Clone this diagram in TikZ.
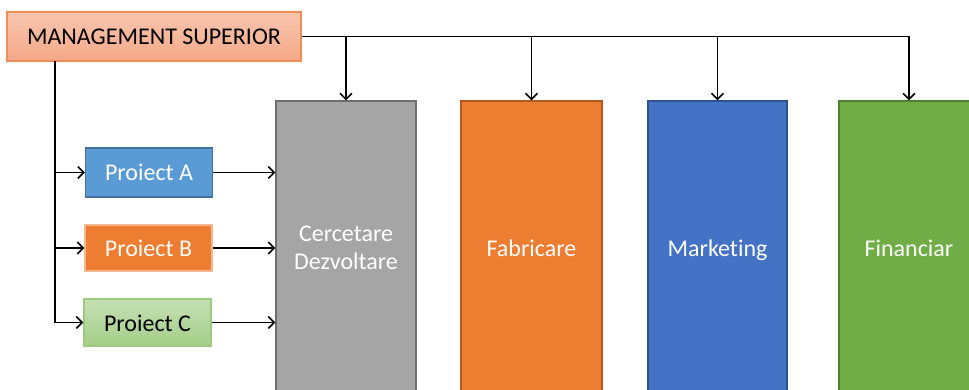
\documentclass[tikz,border=0pt]{standalone}
\usepackage{fontspec}
\setmainfont{Carlito}[Ligatures=NoCommon]
\usetikzlibrary{arrows.meta}
\definecolor{mgtop}{HTML}{F8C6AF}
\definecolor{mgbot}{HTML}{F4A887}
\definecolor{mgedge}{HTML}{F08C55}
\definecolor{pablue}{HTML}{5B9BD5}
\definecolor{paedge}{HTML}{41719C}
\definecolor{orng}{HTML}{ED7D31}
\definecolor{pbedge}{HTML}{F6B890}
\definecolor{pctop}{HTML}{C5E0B4}
\definecolor{pcbot}{HTML}{A3CE87}
\definecolor{pcedge}{HTML}{9CCB7E}
\definecolor{grey}{HTML}{A5A5A5}
\definecolor{greyedge}{HTML}{6E6E6E}
\definecolor{fabedge}{HTML}{AE5A21}
\definecolor{mktblue}{HTML}{4472C4}
\definecolor{mktedge}{HTML}{2F528F}
\definecolor{fingreen}{HTML}{70AD47}
\definecolor{finedge}{HTML}{507E32}
\tikzset{
  box/.style={rectangle, inner sep=0pt, line width=1.2pt, align=center,
    font=\fontsize{24}{30}\selectfont},
  dept/.style={box, minimum width=140pt, minimum height=294pt, text=white},
  onerow/.style={text height=22pt, text depth=5pt},
  proj/.style={box, onerow, minimum width=127pt, minimum height=47pt},
  link/.style={line width=1.6pt, black},
  arr/.style={link, -{Straight Barb[length=6pt,width=12pt,line width=1.6pt]}},
}
\begin{document}
\begin{tikzpicture}[x=1pt,y=-1pt]
  \useasboundingbox (0,0) rectangle (969,390);
  \clip (0,0) rectangle (969,390);
  \fill[white] (0,0) rectangle (969,390);

  % top management
  \node[box, onerow, draw=mgedge, top color=mgtop, bottom color=mgbot,
        minimum width=294pt, minimum height=49pt] (mg) at (154,36.5)
        {MANAGEMENT SUPERIOR};

  % projects
  \node[proj, draw=paedge, fill=pablue, text=white, minimum height=49pt] (pa) at (149,172.5) {Proiect A};
  \node[proj, draw=pbedge, fill=orng, text=white, minimum height=46pt] (pb) at (148.5,248) {Proiect B};
  \node[proj, draw=pcedge, top color=pctop, bottom color=pcbot, text=black] (pc) at (147.5,322.5) {Proiect C};

  % functional departments
  \node[dept, draw=greyedge, fill=grey] (cd) at (346,248) {Cercetare\\[-2pt]Dezvoltare};
  \node[dept, onerow, draw=fabedge, fill=orng, minimum width=141pt] (fab) at (531.5,248) {Fabricare};
  \node[dept, onerow, draw=mktedge, fill=mktblue, minimum width=139pt] (mkt) at (717.5,248) {Marketing};
  \node[dept, onerow, draw=finedge, fill=fingreen] (fin) at (909,248) {Financiar};

  % management to departments
  \draw[arr] (mg.east) -| (fin.north);
  \draw[arr] (mg.east -| cd.north) -- (cd.north);
  \draw[arr] (mg.east -| fab.north) -- (fab.north);
  \draw[arr] (mg.east -| mkt.north) -- (mkt.north);

  % management to projects
  \coordinate (sp) at (55,61);
  \draw[arr] (sp) |- (pc.west);
  \draw[arr] (sp |- pa.west) -- (pa.west);
  \draw[arr] (sp |- pb.west) -- (pb.west);

  % projects to research
  \draw[arr] (pa.east) -- (pa.east -| cd.west);
  \draw[arr] (pb.east) -- (pb.east -| cd.west);
  \draw[arr] (pc.east) -- (pc.east -| cd.west);
\end{tikzpicture}
\end{document}
